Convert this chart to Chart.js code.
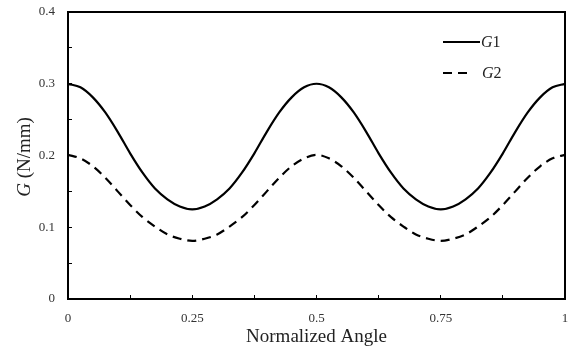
<!DOCTYPE html>
<html>
<head>
<meta charset="utf-8">
<script src="https://cdn.jsdelivr.net/npm/chart.js@4"></script>
<style>
html,body{margin:0;padding:0;background:#fff;}
#wrap{width:568px;height:349px;position:relative;}
</style>
</head>
<body>
<div id="wrap"><canvas id="c" width="568" height="349"></canvas></div>
<script>
const angles = [0,0.025,0.05,0.075,0.1,0.125,0.15,0.175,0.2,0.225,0.25,0.275,0.3,0.325,0.35,0.375,0.4,0.425,0.45,0.475,0.5,0.525,0.55,0.575,0.6,0.625,0.65,0.675,0.7,0.725,0.75,0.775,0.8,0.825,0.85,0.875,0.9,0.925,0.95,0.975,1];
const g1 = [0.300,0.295,0.281,0.260,0.233,0.203,0.176,0.154,0.139,0.129,0.125,0.129,0.139,0.154,0.176,0.203,0.233,0.260,0.281,0.295,0.300,0.295,0.281,0.260,0.233,0.203,0.176,0.154,0.139,0.129,0.125,0.129,0.139,0.154,0.176,0.203,0.233,0.260,0.281,0.295,0.300];
const g2 = [0.201,0.196,0.185,0.169,0.150,0.131,0.114,0.101,0.090,0.084,0.081,0.084,0.090,0.101,0.114,0.131,0.150,0.169,0.185,0.196,0.201,0.196,0.185,0.169,0.150,0.131,0.114,0.101,0.090,0.084,0.081,0.084,0.090,0.101,0.114,0.131,0.150,0.169,0.185,0.196,0.201];
const xTickLabels = ['0','0.25','0.5','0.75','1'];
const yTickLabels = ['0','0.1','0.2','0.3','0.4'];
const seriesNames = ['G1','G2'];
const yTitleItalic = 'G';
const yTitleRest = ' (N/mm)';
const xTitle = 'Normalized Angle';

const SERIF = '"Liberation Serif", "Times New Roman", serif';

const framePlugin = {
  id: 'frame',
  afterDraw(chart) {
    const {ctx, chartArea: a} = chart;
    ctx.save();
    ctx.strokeStyle = '#000';
    ctx.lineWidth = 2;
    ctx.beginPath();
    ctx.moveTo(a.left, a.top);
    ctx.lineTo(a.right, a.top);
    ctx.lineTo(a.right, a.bottom);
    ctx.stroke();
    // y title with italic G
    ctx.translate(25, 157);
    ctx.rotate(-Math.PI / 2);
    ctx.fillStyle = '#222';
    ctx.textBaseline = 'middle';
    const fI = 'italic 19px ' + SERIF, fN = '19px ' + SERIF;
    ctx.font = fI; const w1 = ctx.measureText(yTitleItalic).width;
    ctx.font = fN; const w2 = ctx.measureText(yTitleRest).width;
    let x0 = -(w1 + w2) / 2;
    ctx.font = fI; ctx.textAlign = 'left'; ctx.fillText(yTitleItalic, x0, 0);
    ctx.font = fN; ctx.fillText(yTitleRest, x0 + w1, 0);
    ctx.restore();
    // legend
    ctx.save();
    ctx.strokeStyle = '#000';
    ctx.lineWidth = 2.2;
    const items = [{y: 42, dash: []}, {y: 73, dash: [9, 6]}];
    items.forEach((it, i) => {
      ctx.setLineDash(it.dash);
      ctx.beginPath();
      ctx.moveTo(443, it.y);
      ctx.lineTo(i === 0 ? 480 : 473, it.y);
      ctx.stroke();
      ctx.setLineDash([]);
      ctx.fillStyle = '#222';
      ctx.textBaseline = 'middle';
      ctx.textAlign = 'left';
      const name = seriesNames[i];
      const xs = i === 0 ? 481 : 482;
      ctx.font = 'italic 16px ' + SERIF;
      ctx.fillText(name[0], xs, it.y + 1);
      const wG = ctx.measureText(name[0]).width;
      ctx.font = '16px ' + SERIF;
      ctx.fillText(name.slice(1), xs + wG, it.y + 1);
    });
    ctx.restore();
  }
};

new Chart(document.getElementById('c'), {
  type: 'line',
  data: {
    datasets: [
      {
        label: seriesNames[0],
        data: angles.map((a, i) => ({x: a, y: g1[i]})),
        borderColor: '#000',
        borderWidth: 2.2,
        pointRadius: 0,
        cubicInterpolationMode: 'monotone',
        fill: false
      },
      {
        label: seriesNames[1],
        data: angles.map((a, i) => ({x: a, y: g2[i]})),
        borderColor: '#000',
        borderWidth: 2.2,
        borderDash: [9, 6],
        pointRadius: 0,
        cubicInterpolationMode: 'monotone',
        fill: false
      }
    ]
  },
  options: {
    responsive: false,
    animation: false,
    devicePixelRatio: 1,
    layout: {padding: {top: 12, right: 3, left: 0, bottom: 0}},
    plugins: {legend: {display: false}, tooltip: {enabled: false}},
    scales: {
      x: {
        type: 'linear',
        min: 0, max: 1,
        afterFit(s) { s.height = 50; s.paddingLeft = 0; s.paddingRight = 0; },
        border: {display: true, color: '#000', width: 2},
        grid: {drawOnChartArea: false, drawTicks: true, tickLength: -4, color: '#000', tickColor: '#000', lineWidth: 1},
        ticks: {
          stepSize: 0.125,
          padding: 16,
          color: '#333',
          font: {family: SERIF, size: 13},
          maxRotation: 0,
          autoSkip: false,
          callback(v) {
            const k = Math.round(v / 0.25);
            return Math.abs(v - k * 0.25) < 1e-6 ? xTickLabels[k] : '';
          }
        },
        title: {display: true, text: xTitle, color: '#222', font: {family: SERIF, size: 19}, padding: {top: 0, bottom: 1}}
      },
      y: {
        type: 'linear',
        min: 0, max: 0.4,
        afterFit(s) { s.width = 68; s.paddingTop = 0; s.paddingBottom = 0; },
        border: {display: true, color: '#000', width: 2},
        grid: {drawOnChartArea: false, drawTicks: true, tickLength: -4, color: '#000', tickColor: '#000', lineWidth: 1},
        ticks: {
          stepSize: 0.05,
          padding: 17,
          color: '#333',
          font: {family: SERIF, size: 13},
          autoSkip: false,
          callback(v) {
            const k = Math.round(v / 0.1);
            return Math.abs(v - k * 0.1) < 1e-6 ? yTickLabels[k] : '';
          }
        }
      }
    }
  },
  plugins: [framePlugin]
});
</script>
</body>
</html>
